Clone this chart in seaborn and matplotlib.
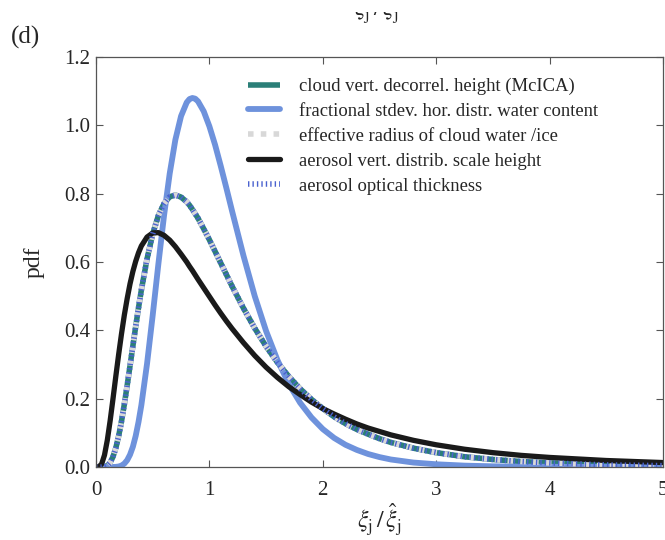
import matplotlib
matplotlib.use("Agg")
import matplotlib.pyplot as plt
from matplotlib.patches import Rectangle
import seaborn as sns
import pandas as pd

# ---- data ----
x_ratio = [0.0, 0.025, 0.05, 0.075, 0.1, 0.125, 0.15, 0.175, 0.2, 0.225,
           0.25, 0.275, 0.3, 0.325, 0.35, 0.375, 0.4, 0.45, 0.5, 0.55,
           0.6, 0.65, 0.7, 0.75, 0.8, 0.825, 0.85, 0.875, 0.9, 0.95,
           1.0, 1.05, 1.1, 1.15, 1.2, 1.3, 1.4, 1.5, 1.6, 1.7,
           1.8, 1.9, 2.0, 2.1, 2.2, 2.3, 2.4, 2.5, 2.6, 2.8,
           3.0, 3.25, 3.5, 3.75, 4.0, 4.5, 5.0]

pdf_decorrel = [0.0, 0.0, 0.0, 0.001, 0.004, 0.013, 0.030, 0.056, 0.091, 0.134,
                0.184, 0.239, 0.296, 0.354, 0.411, 0.466, 0.518, 0.609, 0.682, 0.736,
                0.771, 0.791, 0.796, 0.790, 0.776, 0.766, 0.754, 0.741, 0.728, 0.697,
                0.665, 0.631, 0.597, 0.563, 0.529, 0.465, 0.406, 0.353, 0.306, 0.265,
                0.229, 0.198, 0.171, 0.147, 0.127, 0.110, 0.096, 0.083, 0.072, 0.055,
                0.042, 0.030, 0.022, 0.016, 0.012, 0.006, 0.004]

pdf_stdev = [0.0, 0.0, 0.0, 0.0, 0.0, 0.0, 0.0001, 0.0004, 0.0015, 0.0042,
             0.010, 0.020, 0.036, 0.059, 0.091, 0.132, 0.181, 0.302, 0.444, 0.594,
             0.736, 0.859, 0.958, 1.027, 1.067, 1.077, 1.080, 1.078, 1.070, 1.041,
             0.997, 0.943, 0.881, 0.816, 0.749, 0.619, 0.500, 0.398, 0.313, 0.243,
             0.188, 0.145, 0.111, 0.085, 0.065, 0.050, 0.038, 0.029, 0.022, 0.013,
             0.008, 0.004, 0.002, 0.001, 0.0006, 0.0002, 0.0001]

pdf_reff = list(pdf_decorrel)
pdf_aod = list(pdf_decorrel)

pdf_scaleheight = [0.0, 0.0005, 0.009, 0.035, 0.079, 0.136, 0.200, 0.266, 0.330, 0.390,
                   0.445, 0.493, 0.536, 0.572, 0.602, 0.627, 0.647, 0.673, 0.685, 0.686,
                   0.678, 0.664, 0.645, 0.623, 0.600, 0.587, 0.575, 0.562, 0.549, 0.524,
                   0.499, 0.474, 0.450, 0.427, 0.405, 0.364, 0.326, 0.292, 0.262, 0.235,
                   0.212, 0.190, 0.171, 0.155, 0.140, 0.126, 0.114, 0.104, 0.094, 0.078,
                   0.065, 0.052, 0.042, 0.034, 0.028, 0.019, 0.013]

labels = ["cloud vert. decorrel. height (McICA)",
          "fractional stdev. hor. distr. water content",
          "effective radius of cloud water /ice",
          "aerosol vert. distrib. scale height",
          "aerosol optical thickness"]

x_ticks = [0, 1, 2, 3, 4, 5]
y_ticks = [0.0, 0.2, 0.4, 0.6, 0.8, 1.0, 1.2]
y_ticklabels = ["0.0", "0.2", "0.4", "0.6", "0.8", "1.0", "1.2"]

# ---- styling ----
sns.set_theme(style="ticks")
plt.rcParams["font.family"] = ["Liberation Serif", "DejaVu Serif"]
plt.rcParams["mathtext.fontset"] = "stix"

fig = plt.figure(figsize=(6.65, 5.4), dpi=100)
ax = fig.add_axes([96 / 665, 73 / 540, 567 / 665, 410 / 540])

series = [
    (pdf_decorrel, dict(color="#2b7f78", lw=4.0, solid_capstyle="butt")),
    (pdf_stdev, dict(color="#6e92dc", lw=4.2)),
    (pdf_reff, dict(color="#d8d8d8", lw=4.0, dashes=(1.0, 1.3))),
    (pdf_scaleheight, dict(color="#1a1a1a", lw=3.8)),
    (pdf_aod, dict(color="#4a62cf", lw=4.0, dashes=(0.25, 0.55))),
]

for (vals, kw), lab in zip(series, labels):
    df = pd.DataFrame({"x": x_ratio, "pdf": vals})
    dashes = kw.pop("dashes", None)
    line_ax = sns.lineplot(data=df, x="x", y="pdf", ax=ax, label=lab, **kw)
    line = line_ax.lines[-1]
    line.set_solid_joinstyle("round")
    if dashes is not None:
        line.set_dashes(dashes)

ax.set_xlim(0, 5)
ax.set_ylim(0, 1.2)
ax.set_xticks(x_ticks)
ax.set_yticks(y_ticks)
ax.set_yticklabels(y_ticklabels)
ax.tick_params(direction="in", top=True, right=True, length=5, width=0.8,
               color="#555555", labelsize=15, pad=4)
ax.tick_params(axis="x", pad=10)
for s in ax.spines.values():
    s.set_color("#555555")
    s.set_linewidth(0.9)

ax.set_xlabel(r"$\xi_\mathrm{j}\,/\,\hat{\xi}_\mathrm{j}$", fontsize=17, labelpad=1)
ax.set_ylabel("pdf", fontsize=17, labelpad=14)

leg = ax.legend(loc="upper left", bbox_to_anchor=(0.238, 0.99), frameon=False,
                fontsize=13.4, handlelength=1.75, handletextpad=1.0, labelspacing=0.42)

fig.text(26 / 665, 1 - 37 / 540, "(d)", fontsize=18, ha="center", va="center")
fig.text(376 / 665, 1 - 17 / 540, r"$\xi_\mathrm{j}\,/\,\hat{\xi}_\mathrm{j}$",
         fontsize=17, ha="center", va="baseline", zorder=1)
fig.patches.append(Rectangle((0, 1 - 12 / 540), 1, 12 / 540, transform=fig.transFigure,
                             facecolor="white", edgecolor="none", zorder=5))

fig.savefig("out.png", dpi=100)
